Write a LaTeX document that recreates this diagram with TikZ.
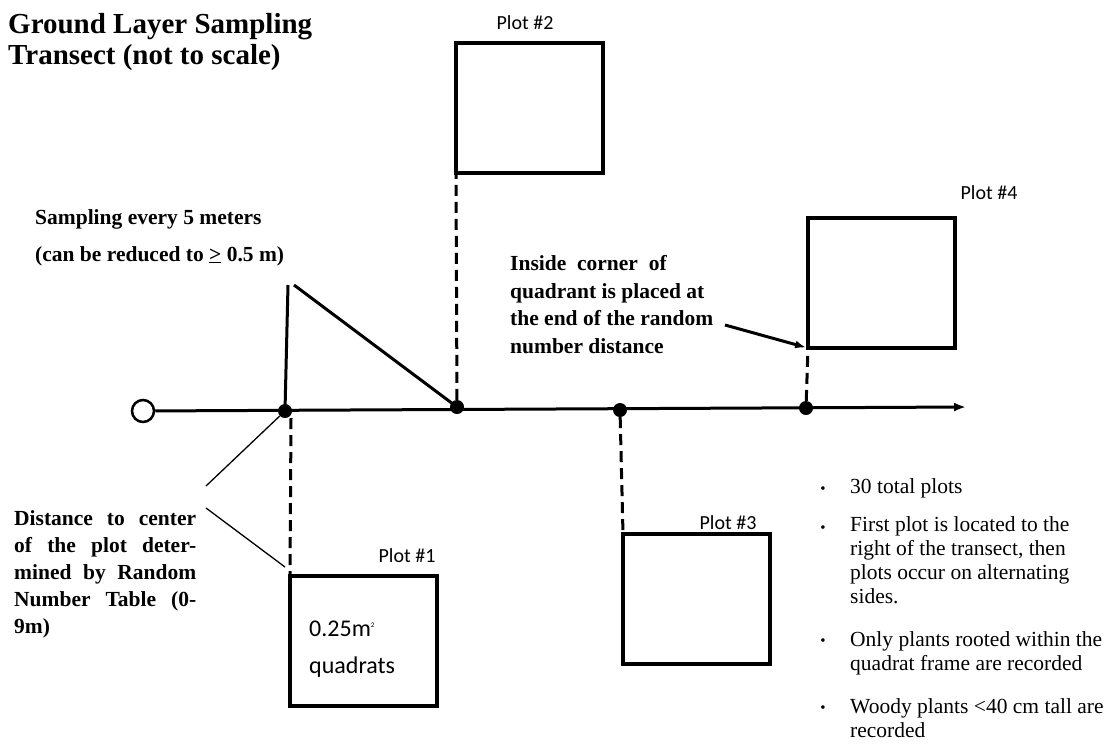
\documentclass[tikz,border=0pt]{standalone}
\usepackage{fontspec}
\setmainfont{Liberation Serif}
\newfontfamily\calibri{Carlito}
\usetikzlibrary{arrows.meta}
\begin{document}
\begin{tikzpicture}[x=1pt,y=-1pt,
  plotbox/.style={draw, line width=4pt, minimum width=147pt, minimum height=130pt, inner sep=0pt, outer sep=0pt, anchor=north west},
  plotlabel/.style={font=\calibri\fontsize{20}{24}\selectfont, anchor=base, inner sep=0pt},
  dot/.style={circle, fill, inner sep=0pt, minimum size=14pt},
  dashline/.style={line width=3pt, dash pattern=on 11pt off 6pt},
  boldtxt/.style={font=\bfseries\fontsize{21.5}{27.5}\selectfont, align=left, anchor=base west, inner sep=0pt},
  bullettxt/.style={font=\fontsize{21.5}{24}\selectfont, align=left, anchor=base west, inner sep=0pt},
  bulletmark/.style={font=\fontsize{15}{15}\selectfont, anchor=base, inner sep=0pt},
  thickline/.style={line width=3pt},
  thinline/.style={line width=1.3pt}
]
\useasboundingbox (0,0) rectangle (1115,747);

% title (anchor = baseline of last line)
\node[font=\bfseries\fontsize{29}{31}\selectfont, align=left, anchor=base west, inner sep=0pt] (title) at (8,64) {Ground Layer Sampling\\Transect (not to scale)};

% transect
\node[circle, draw, line width=2.5pt, minimum size=22pt, inner sep=0pt] (o) at (143,411) {};
\coordinate (tend) at (966,407);
\draw[thickline, -{Latex[length=12pt,width=9pt]}] (o) -- (tend);
\node[dot] (d1) at (285,411) {};
\node[dot] (d2) at (457,407) {};
\node[dot] (d3) at (620,410) {};
\node[dot] (d4) at (806,408) {};

% plots
\node[plotbox] (p2) at (456,43) {};
\node[plotbox] (p4) at (808,218) {};
\node[plotbox] (p1) at (290,576) {};
\node[plotbox] (p3) at (623,534) {};
\node[plotlabel] (l2) at (525,29) {Plot \#2};
\node[plotlabel] (l4) at (989,199) {Plot \#4};
\node[plotlabel] (l1) at (407,562) {Plot \#1};
\node[plotlabel] (l3) at (728,529) {Plot \#3};
\node[font=\calibri\fontsize{24}{37}\selectfont, align=left, anchor=base west, inner sep=0pt] (q1) at (309,673) {0.25m\raisebox{9pt}{\fontsize{7}{7}\selectfont 2}\\quadrats};

% dashed connectors
\draw[dashline] (d2) -- (p2.south west);
\draw[dashline] (d4) -- (p4.south west);
\draw[dashline] ([xshift=6pt]d1.south) -- (p1.north west);
\draw[dashline] (d3) -- (p3.north west);

% sampling interval annotation
\node[boldtxt, font=\bfseries\fontsize{21.5}{37}\selectfont] (samp) at (35,261) {Sampling every 5 meters\\(can be reduced to \underline{>} 0.5 m)};
\coordinate (s1) at (288,285);
\coordinate (s2) at (294,285);
\draw[thickline] (d1.center) -- (s1);
\draw[thickline] (s2) -- (d2.center);

% inside corner annotation
\node[boldtxt] (inside) at (510,353) {Inside\ \ corner\ \ of\\quadrant is placed at\\the end of the random\\number distance};
\coordinate (a1) at (725,325);
\draw[thickline, -{Latex[length=11pt,width=8pt]}, shorten >=2pt] (a1) -- (p4.south west);

% distance annotation
\node[boldtxt, font=\bfseries\fontsize{21.5}{27}\selectfont] (dist) at (14,633) {\makebox[182pt][s]{Distance to center}\\\makebox[182pt][s]{of the plot deter-}\\\makebox[182pt][s]{mined by Random}\\\makebox[182pt][s]{Number Table (0-}\\9m)};
\coordinate (t1) at (206,486);
\coordinate (t2) at (206,508);
\coordinate (t3) at (285,567);
\draw[thinline] (t1) -- (d1);
\draw[thinline] (t2) -- (t3);

% bullet list
\node[bulletmark] (m1) at (823,493) {•};
\node[bulletmark] (m2) at (823,532) {•};
\node[bulletmark] (m3) at (823,645) {•};
\node[bulletmark] (m4) at (823,712) {•};
\node[bullettxt] (b1) at (850,493) {30 total plots};
\node[bullettxt] (b2) at (850,603) {First plot is located to the\\right of the transect, then\\plots occur on alternating\\sides.};
\node[bullettxt] (b3) at (850,670) {Only plants rooted within the\\quadrat frame are recorded};
\node[bullettxt] (b4) at (850,737) {Woody plants <40 cm tall are\\recorded};
\end{tikzpicture}
\end{document}
